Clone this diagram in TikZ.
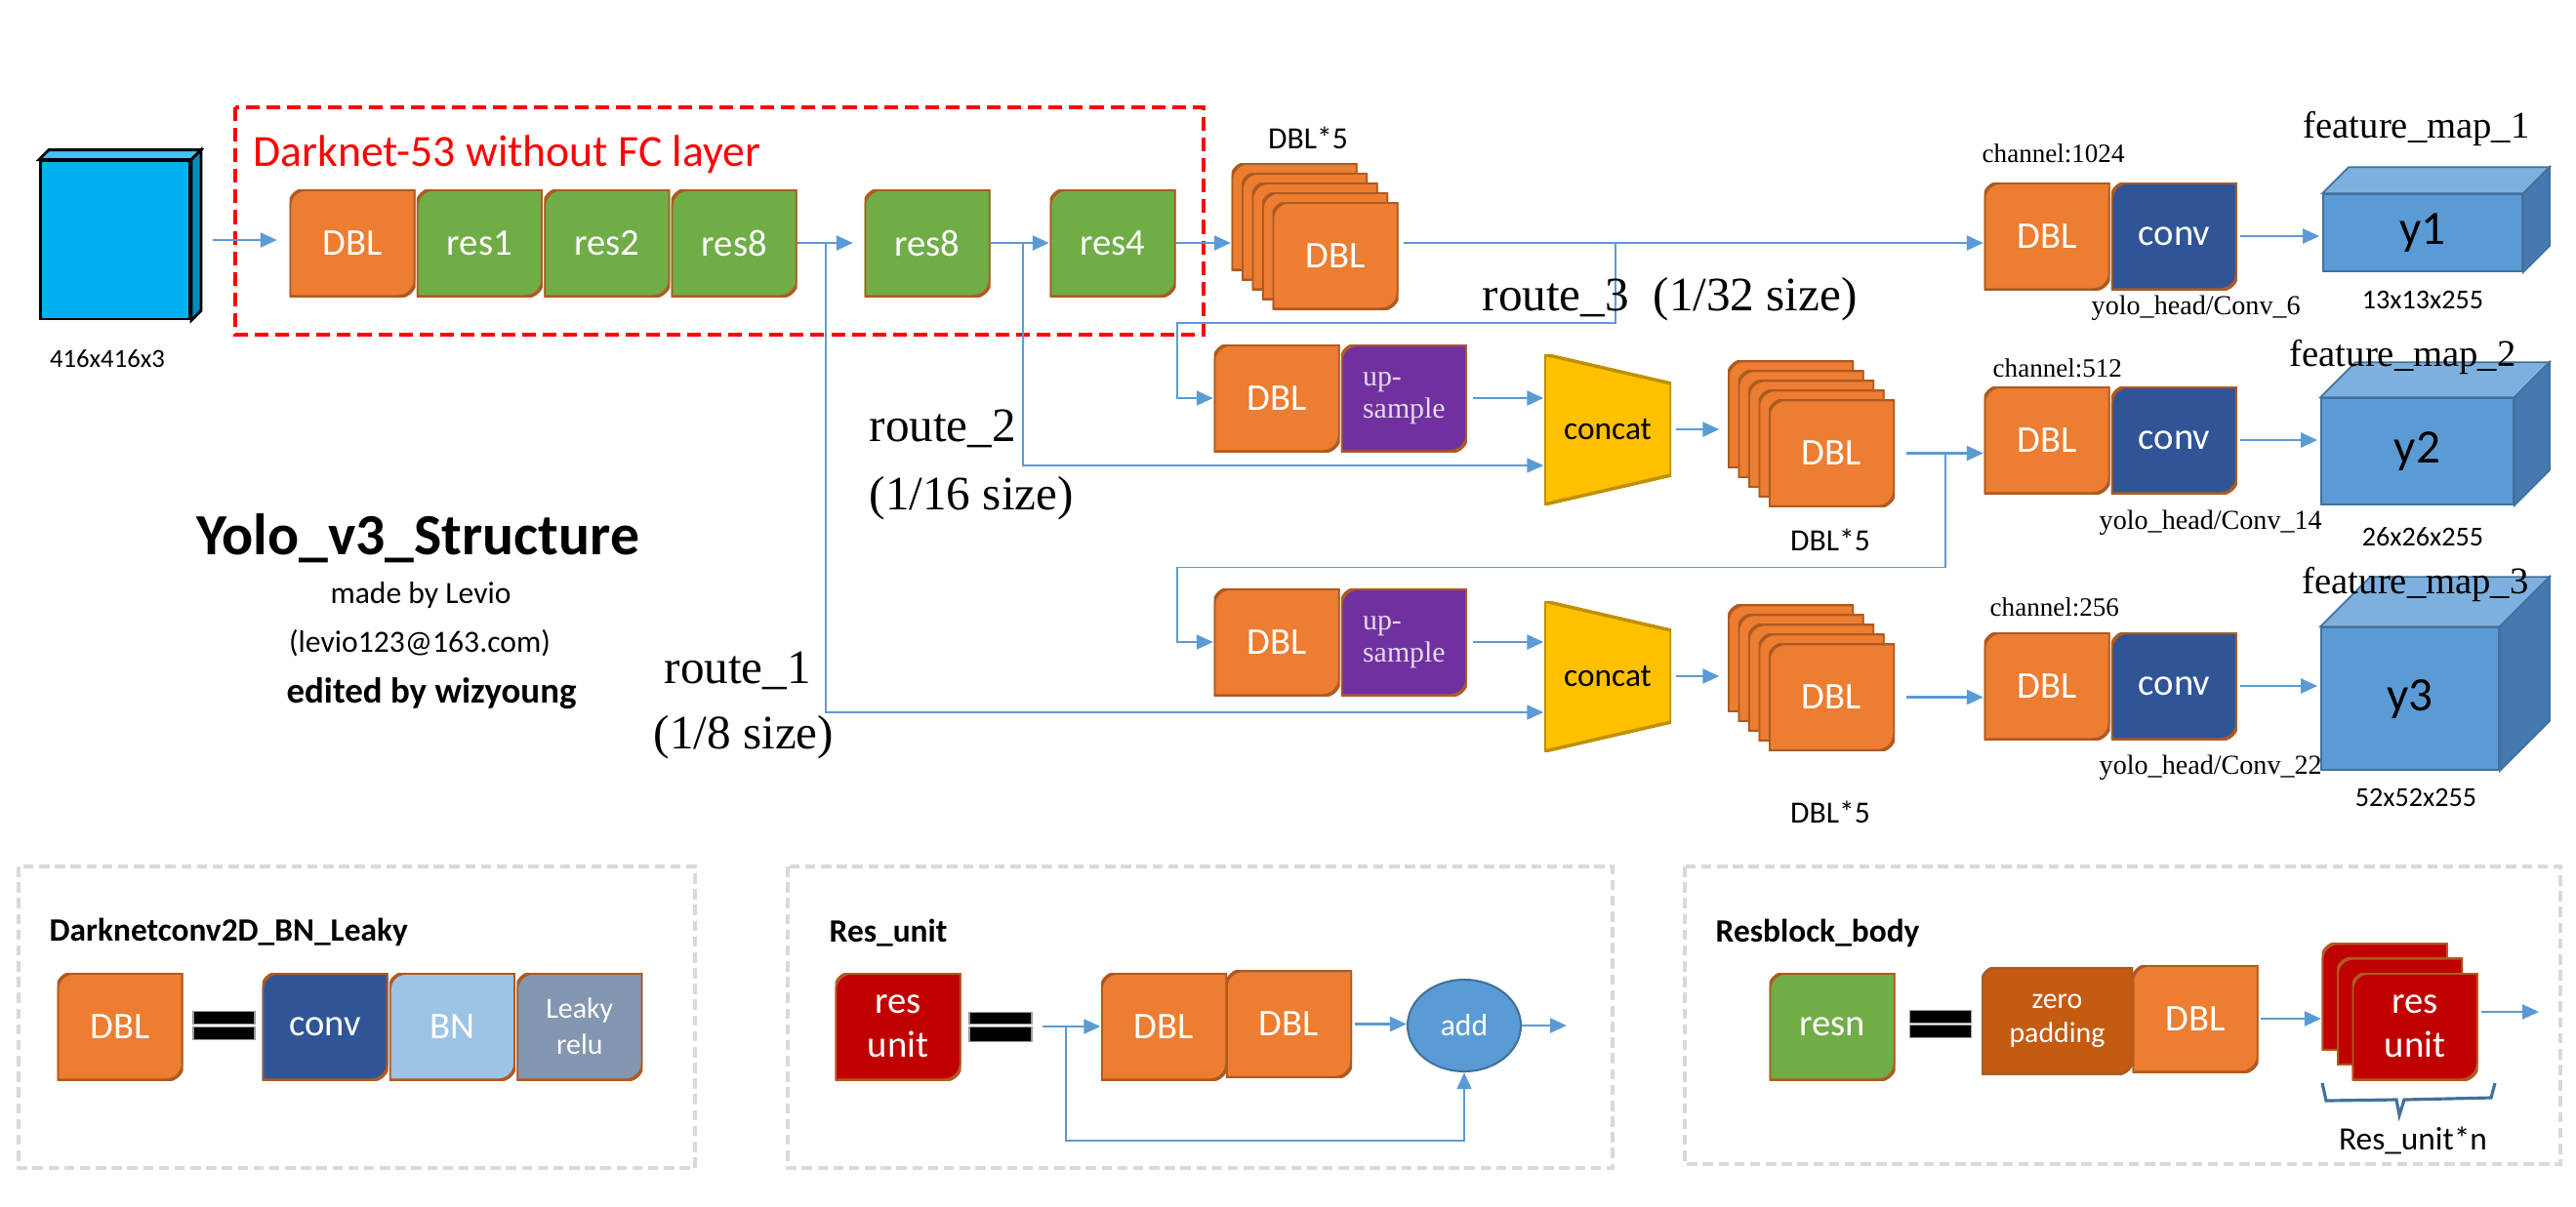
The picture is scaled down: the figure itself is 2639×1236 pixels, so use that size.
\documentclass[tikz,border=0pt]{standalone}
\usepackage{fontspec}
\setmainfont{Liberation Serif}
\newfontfamily\carl{Carlito}
\usetikzlibrary{arrows.meta, positioning, calc, shapes.geometric}

\definecolor{dblc}{HTML}{ED7D31}
\definecolor{resc}{HTML}{70AD47}
\definecolor{edgec}{HTML}{AE5A21}
\definecolor{upc}{HTML}{7030A0}
\definecolor{catc}{HTML}{FFC000}
\definecolor{catedge}{HTML}{BF9000}
\definecolor{convc}{HTML}{2F5597}
\definecolor{bnc}{HTML}{9DC3E6}
\definecolor{leakc}{HTML}{8497B0}
\definecolor{ruc}{HTML}{C00000}
\definecolor{zpc}{HTML}{C55A11}
\definecolor{arrc}{HTML}{5B9BD5}
\definecolor{cubef}{HTML}{5B9BD5}
\definecolor{cubet}{HTML}{7EB0DF}
\definecolor{cubes}{HTML}{4679B0}
\definecolor{cubee}{HTML}{41719C}
\definecolor{inf}{HTML}{00B0F0}
\definecolor{panelc}{HTML}{D9D9D9}

\newcommand{\fsize}[2]{\fontsize{#1}{#2}\selectfont}

\begin{document}
\begin{tikzpicture}[
    x=0.1mm, y=-0.1mm,
    snip/.style={rectangle, inner sep=0pt, minimum width=12.9mm, minimum height=11mm,
                 text=white, font=\carl\fsize{11}{13}, align=center,
                 path picture={\filldraw[fill=#1, draw=edgec, line width=1pt]
                   (path picture bounding box.south west)
                   -- ([yshift=-1.7mm]path picture bounding box.north west)
                   arc[start angle=180, end angle=90, radius=1.7mm]
                   -- (path picture bounding box.north east)
                   -- ([yshift=1.7mm]path picture bounding box.south east)
                   arc[start angle=0, end angle=-90, radius=1.7mm] -- cycle;}},
    catnode/.style={rectangle, inner sep=0pt, minimum width=13mm, minimum height=15.4mm,
                 font=\carl\fsize{9.5}{11},
                 path picture={\filldraw[fill=catc, draw=catedge, line width=1pt]
                   (path picture bounding box.north west)
                   -- ([yshift=-3mm]path picture bounding box.north east)
                   -- ([yshift=3mm]path picture bounding box.south east)
                   -- (path picture bounding box.south west) -- cycle;}},
    cube/.style={draw=cubee, fill=cubef, line width=0.5pt, inner sep=0pt,
                 font=\carl\fsize{14}{16}},
    lbl/.style={inner sep=0pt, font=\carl\fsize{8}{10}},
    txt/.style={anchor=base west, inner sep=0pt},
    ttlb/.style={anchor=base west, inner sep=0pt, font=\carl\bfseries\fsize{9.5}{11}},
    arr/.style={draw=arrc, line width=0.7pt, -{Triangle[length=1.7mm, width=1.5mm]}},
    rline/.style={draw=arrc, line width=0.45pt},
    rarr/.style={rline, -{Triangle[length=1.7mm, width=1.5mm]}},
    panel/.style={draw=panelc, line width=1.1pt, dash pattern=on 3pt off 1.6pt},
    eqbar/.style={fill=black, draw=black!40, line width=0.3pt}
  ]
  \useasboundingbox (0,0) rectangle (2639,1236);

  % --- input image ---
  \node[draw=black, fill=inf, line width=0.8pt, minimum width=15.3mm, minimum height=16.2mm,
        inner sep=0pt] (in0) at (118,246) {};
  \filldraw[draw=black, fill=inf!75!white, line width=0.8pt] (in0.north west) -- ++(10,-10)
    -- ([shift={(10,-10)}]in0.north east) -- (in0.north east) -- cycle;
  \filldraw[draw=black, fill=inf!80!black, line width=0.8pt] (in0.north east) -- ++(10,-10)
    -- ([shift={(10,-10)}]in0.south east) -- (in0.south east) -- cycle;
  \node[lbl, font=\carl\fsize{7.6}{9}] (in0t) at (110,368) {416x416x3};

  % --- Darknet-53 ---
  \draw[red, line width=1.2pt, dash pattern=on 4pt off 2pt] (241,110) rectangle (1233,343);
  \node[txt, text=red, font=\carl\fsize{13}{15}] (dnt) at (259,170) {Darknet-53 without FC layer};

  \node[snip=dblc] (dbl0) at (361,249) {DBL};
  \node[snip=resc, right=0pt of dbl0] (res1) {res1};
  \node[snip=resc, right=0pt of res1] (res2) {res2};
  \node[snip=resc, right=0pt of res2] (res8a) {res8};
  \node[snip=resc] (res8b) at (950,249) {res8};
  \node[snip=resc] (res4) at (1140,249) {res4};

  % --- DBL*5 stacks ---
  \foreach \k in {0,...,3}
    \node[snip=dblc] (sA\k) at (1326+10.5*\k, 222+10*\k) {};
  \node[snip=dblc] (sA) at (1368,262) {DBL};
  \node[lbl, font=\carl\fsize{9}{11}, anchor=base] (sAt) at (1340,152) {DBL*5};

  \foreach \k in {0,...,3}
    \node[snip=dblc] (sB\k) at (1834.5+10.5*\k, 424.5+10*\k) {};
  \node[snip=dblc] (sB) at (1876.5,464.5) {DBL};
  \node[lbl, font=\carl\fsize{9}{11}, anchor=base] (sBt) at (1875,564) {DBL*5};

  \foreach \k in {0,...,3}
    \node[snip=dblc] (sC\k) at (1834.5+10.5*\k, 674.5+10*\k) {};
  \node[snip=dblc] (sC) at (1876.5,714.5) {DBL};
  \node[lbl, font=\carl\fsize{9}{11}, anchor=base] (sCt) at (1875,843) {DBL*5};

  % --- upsample branches ---
  \node[snip=dblc] (dblU2) at (1308,408) {DBL};
  \node[snip=upc, right=0pt of dblU2, font=\fsize{8.5}{9.5}, text=white!82!upc,
        align=left] (up2) {up-\\sample};
  \node[catnode] (cc2) at (1647,440) {concat};

  \node[snip=dblc] (dblU3) at (1308,658) {DBL};
  \node[snip=upc, right=0pt of dblU3, font=\fsize{8.5}{9.5}, text=white!82!upc,
        align=left] (up3) {up-\\sample};
  \node[catnode] (cc3) at (1647,693) {concat};

  % --- yolo heads ---
  \node[snip=dblc] (hd1) at (2097,242) {DBL};
  \node[snip=convc, right=0pt of hd1] (cv1) {conv};
  \node[snip=dblc] (hd2) at (2097,451) {DBL};
  \node[snip=convc, right=0pt of hd2] (cv2) {conv};
  \node[snip=dblc] (hd3) at (2097,703) {DBL};
  \node[snip=convc, right=0pt of hd3] (cv3) {conv};

  \node[txt, font=\fsize{7.7}{9}] (ch1) at (2030,166) {channel:1024};
  \node[txt, font=\fsize{7.7}{9}] (ch2) at (2041,386) {channel:512};
  \node[txt, font=\fsize{7.7}{9}] (ch3) at (2038,631) {channel:256};
  \node[txt, font=\fsize{8}{10}] (yh1) at (2142,322) {yolo\_head/Conv\_6};
  \node[txt, font=\fsize{8}{10}] (yh2) at (2150,542) {yolo\_head/Conv\_14};
  \node[txt, font=\fsize{8}{10}] (yh3) at (2150,793) {yolo\_head/Conv\_22};

  % --- feature maps ---
  \foreach \n/\cx/\cy/\w/\h/\d in {y1/2482/238.5/204/79/27, y2/2476.5/462.5/197/109/36,
                                     y3/2469/716/182/146/51} {
    \node[cube, minimum width=\w*0.1mm, minimum height=\h*0.1mm] (\n) at (\cx,\cy) {\n};
    \filldraw[draw=cubee, fill=cubet, line width=0.5pt] (\n.north west) -- ++(\d,-\d)
      -- ([shift={(\d,-\d)}]\n.north east) -- (\n.north east) -- cycle;
    \filldraw[draw=cubee, fill=cubes, line width=0.5pt] (\n.north east) -- ++(\d,-\d)
      -- ([shift={(\d,-\d)}]\n.south east) -- (\n.south east) -- cycle;
  }
  \node[txt, font=\fsize{11}{13}] (fm1) at (2359,141) {feature\_map\_1};
  \node[txt, font=\fsize{11}{13}] (fm2) at (2345,375) {feature\_map\_2};
  \node[txt, font=\fsize{11}{13}] (fm3) at (2358,608) {feature\_map\_3};
  \node[lbl] (sz1) at (2482,307) {13x13x255};
  \node[lbl] (sz2) at (2482,550) {26x26x255};
  \node[lbl] (sz3) at (2475,817) {52x52x255};

  % --- main arrows ---
  \draw[arr, shorten <=2.2mm, shorten >=1.2mm] (in0.east) -- (in0.east -| dbl0.west);
  \draw[arr, shorten >=1.1mm] (res8a) -- (res8b);
  \draw[arr] (res8b) -- (res4);
  \draw[arr] (res4.east) -- (res4.east -| sA0.west);
  \draw[arr, shorten <=0.5mm] (sA.east |- res4) -- (hd1.west |- res4);
  \draw[arr, shorten <=0.5mm] (up2.east) -- (up2.east -| cc2.west);
  \draw[arr, shorten <=0.4mm, shorten >=0.8mm] (cc2.east) -- (cc2.east -| sB0.west);
  \draw[arr, shorten <=1.1mm] (sB.east) -- (sB.east -| hd2.west);
  \draw[arr, shorten <=0.5mm] (up3.east) -- (up3.east -| cc3.west);
  \draw[arr, shorten <=0.4mm, shorten >=0.8mm] (cc3.east) -- (cc3.east -| sC0.west);
  \draw[arr, shorten <=1.1mm] (sC.east) -- (sC.east -| hd3.west);
  \foreach \i in {1,2,3}
    \draw[arr, shorten <=0.2mm, shorten >=0.3mm] (cv\i.east) -- (cv\i.east -| y\i.west);

  % --- routes ---
  \coordinate (br1) at (846,249);
  \coordinate (br2) at (1048,249);
  \coordinate (br3) at (1655,249);
  \coordinate (br4) at (1993,464.5);
  \draw[rarr] (br1) |- ([yshift=-3.7mm]cc3.west);
  \draw[rarr] (br2) |- ([yshift=-3.7mm]cc2.west);
  \draw[rarr] (br3) -- ++(0,82) -- ++(-449,0) |- (dblU2.west);
  \draw[rarr] (br4) -- ++(0,117) -- ++(-787,0) |- (dblU3.west);

  \node[txt, font=\fsize{14}{16}] (r1a) at (680,700) {route\_1};
  \node[txt, font=\fsize{14}{16}] (r1b) at (669,767) {(1/8 size)};
  \node[txt, font=\fsize{14}{16}] (r2a) at (890,452) {route\_2};
  \node[txt, font=\fsize{14}{16}] (r2b) at (890,522) {(1/16 size)};
  \node[txt, font=\fsize{14}{16}] (r3) at (1518,318) {route\_3\ \ (1/32 size)};

  % --- title ---
  \node[anchor=base, inner sep=0pt, font=\carl\bfseries\fsize{17}{20}] (ttl) at (428,568) {Yolo\_v3\_Structure};
  \node[anchor=base, inner sep=0pt, font=\carl\fsize{9}{11}] (mby) at (431,618) {made by Levio};
  \node[anchor=base, inner sep=0pt, font=\carl\fsize{9}{11}] (mail) at (430,668) {(levio123@163.com)};
  \node[anchor=base, inner sep=0pt, font=\carl\bfseries\fsize{10.5}{12}] (edt) at (442,720) {edited by wizyoung};

  % --- legend panels ---
  \draw[panel] (19,888) rectangle (712,1197);
  \draw[panel] (807,888) rectangle (1652,1197);
  \draw[panel] (1726,888) rectangle (2623,1193);
  \node[ttlb] (p1t) at (50,964) {Darknetconv2D\_BN\_Leaky};
  \node[ttlb] (p2t) at (849,965) {Res\_unit};
  \node[ttlb] (p3t) at (1757,965) {Resblock\_body};

  % DBL
  \node[snip=dblc] (pd) at (123,1052) {DBL};
  \path[eqbar] (198,1036) rectangle (261,1049);
  \path[eqbar] (198,1052) rectangle (261,1065);
  \node[snip=convc] (pconv) at (333,1052) {conv};
  \node[snip=bnc, right=0pt of pconv] (pbn) {BN};
  \node[snip=leakc, right=0pt of pbn, font=\carl\fsize{8.5}{10.5}] (plk) {Leaky\\relu};

  % Res_unit
  \node[snip=ruc, font=\carl\fsize{11}{12.8}] (pru) at (920,1052) {res\\unit};
  \path[eqbar] (993,1037) rectangle (1057,1049);
  \path[eqbar] (993,1052) rectangle (1057,1067);
  \node[snip=dblc] (rd1) at (1192.5,1052) {DBL};
  \node[snip=dblc] (rd2) at (1320.5,1049.5) {DBL};
  \node[ellipse, draw=cubee, fill=arrc, line width=0.6pt, minimum width=11.6mm,
        minimum height=9.4mm, inner sep=0pt, text=white, font=\carl\fsize{9}{11}] (addn) at (1500,1051) {add};
  \coordinate (ruin) at (1068,1052);
  \coordinate (rubr) at (1092,1052);
  \coordinate (ruout) at (1605,1051);
  \draw[arr] (ruin) -- (rd1.west);
  \draw[arr, shorten <=0.2mm] (rd2.east) -- (rd2.east -| addn.west);
  \draw[arr] (addn.east) -- (ruout);
  \draw[rarr] (rubr) -- ++(0,117) -| (addn.south);

  % Resblock_body
  \node[snip=resc] (prn) at (1877,1052) {resn};
  \path[eqbar] (1956,1035) rectangle (2019,1048);
  \path[eqbar] (1956,1050) rectangle (2019,1063);
  \node[snip=zpc, minimum width=15.5mm, font=\carl\fsize{8.5}{10}] (pzp) at (2107.5,1046) {zero\\padding};
  \node[snip=dblc] (pdb) at (2249,1044) {DBL};
  \foreach \k in {0,1}
    \node[snip=ruc] (rs\k) at (2443+15.5*\k, 1021.5+15.25*\k) {};
  \node[snip=ruc, font=\carl\fsize{11}{12.8}] (rs) at (2474,1052) {res\\unit};
  \coordinate (rsout) at (2601,1037);
  \draw[arr, shorten <=0.2mm] (pdb.east) -- (pdb.east -| rs0.west);
  \draw[arr, shorten <=0.3mm] (rs.east |- rsout) -- (rsout);
  \draw[draw=cubee, line width=0.9pt] (2379,1110) -- (2383,1128) -- (2455,1127) -- (2458,1143)
    -- (2463,1127) -- (2552,1125) -- (2556,1110);
  \node[anchor=base, inner sep=0pt, font=\carl\fsize{9.5}{11}] (rsn) at (2472,1178) {Res\_unit*n};

\end{tikzpicture}
\end{document}
